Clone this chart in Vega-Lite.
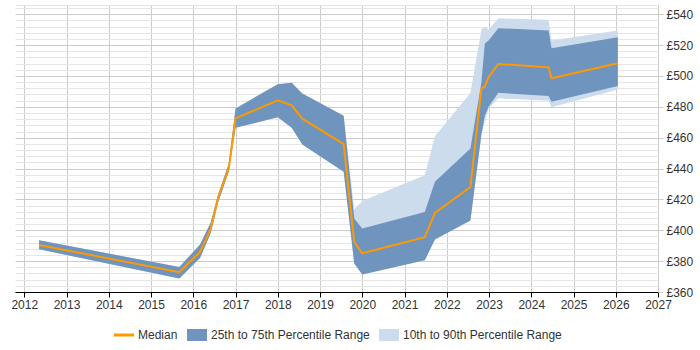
{
  "$schema": "https://vega.github.io/schema/vega-lite/v6.json",
  "width": 643,
  "height": 287,
  "autosize": {"type": "none"},
  "padding": {"left": 15, "top": 5, "right": 42, "bottom": 58},
  "background": "white",
  "config": {
    "view": {"stroke": null},
    "font": "Liberation Sans",
    "axis": {"labelFont": "Liberation Sans", "labelFontSize": 12, "labelColor": "#333333"},
    "legend": {"labelFont": "Liberation Sans", "labelFontSize": 12, "labelColor": "#333333"}
  },
  "data": {
    "values": [
      {"year": 2012.35, "p10": 387.7, "p25": 387.7, "p50": 390.5, "p75": 393.5, "p90": 393.5},
      {"year": 2015.67, "p10": 368.7, "p25": 368.7, "p50": 372.8, "p75": 376.2, "p90": 376.2},
      {"year": 2016.16, "p10": 382.0, "p25": 382.0, "p50": 386.0, "p75": 390.8, "p90": 390.8},
      {"year": 2016.41, "p10": 397.9, "p25": 397.9, "p50": 400.7, "p75": 404.8, "p90": 404.8},
      {"year": 2016.59, "p10": 418.4, "p25": 418.4, "p50": 421.6, "p75": 423.4, "p90": 423.4},
      {"year": 2016.84, "p10": 437.9, "p25": 437.9, "p50": 440.0, "p75": 443.3, "p90": 443.3},
      {"year": 2017.0, "p10": 466.4, "p25": 466.4, "p50": 472.5, "p75": 479.0, "p90": 479.0},
      {"year": 2018.0, "p10": 473.2, "p25": 473.2, "p50": 484.2, "p75": 494.6, "p90": 494.6},
      {"year": 2018.33, "p10": 466.4, "p25": 466.4, "p50": 481.0, "p75": 495.6, "p90": 495.6},
      {"year": 2018.58, "p10": 455.6, "p25": 455.6, "p50": 472.3, "p75": 488.7, "p90": 488.7},
      {"year": 2019.56, "p10": 437.9, "p25": 437.9, "p50": 455.8, "p75": 474.2, "p90": 474.2},
      {"year": 2019.81, "p10": 378.4, "p25": 378.4, "p50": 392.4, "p75": 407.6, "p90": 413.5},
      {"year": 2020.0, "p10": 371.3, "p25": 371.3, "p50": 385.1, "p75": 401.1, "p90": 419.0},
      {"year": 2021.48, "p10": 380.6, "p25": 380.6, "p50": 395.5, "p75": 411.9, "p90": 435.7},
      {"year": 2021.72, "p10": 394.0, "p25": 394.0, "p50": 411.3, "p75": 431.4, "p90": 461.0},
      {"year": 2022.56, "p10": 406.3, "p25": 406.3, "p50": 428.0, "p75": 453.0, "p90": 489.0},
      {"year": 2022.82, "p10": 462.0, "p25": 462.0, "p50": 492.0, "p75": 496.0, "p90": 530.0},
      {"year": 2022.9, "p10": 470.0, "p25": 474.0, "p50": 493.0, "p75": 521.0, "p90": 532.0},
      {"year": 2022.99, "p10": 479.0, "p25": 480.0, "p50": 499.3, "p75": 523.0, "p90": 530.0},
      {"year": 2023.22, "p10": 485.5, "p25": 489.1, "p50": 507.8, "p75": 531.0, "p90": 537.4},
      {"year": 2024.41, "p10": 484.0, "p25": 487.0, "p50": 505.6, "p75": 529.4, "p90": 536.4},
      {"year": 2024.48, "p10": 479.7, "p25": 483.3, "p50": 498.5, "p75": 518.0, "p90": 523.0},
      {"year": 2026.05, "p10": 491.3, "p25": 493.5, "p50": 508.2, "p75": 525.1, "p90": 529.4}
    ]
  },
  "layer": [
    {
      "mark": {"type": "area", "opacity": 1, "interpolate": "linear"},
      "encoding": {
        "x": {"field": "year", "type": "quantitative", "scale": {"domain": [2011.78, 2027], "nice": false, "zero": false},
          "axis": {"values": [2012,2013,2014,2015,2016,2017,2018,2019,2020,2021,2022,2023,2024,2025,2026,2027], "format": "d", "title": null, "grid": true, "gridColor": "#cccccc", "domainColor": "#000000", "tickColor": "#000000", "tickSize": 5, "labelPadding": 2, "labelFlush": false}},
        "y": {"field": "p10", "type": "quantitative", "scale": {"domain": [360, 546], "nice": false, "zero": false},
          "axis": {"orient": "left", "values": [364,368,372,376,384,388,392,396,404,408,412,416,424,428,432,436,444,448,452,456,464,468,472,476,484,488,492,496,504,508,512,516,524,528,532,536,544,546], "grid": true, "gridColor": "#e6e6e6", "labels": false, "ticks": false, "domain": false, "title": null}},
        "y2": {"field": "p90"},
        "color": {"datum": "10th to 90th Percentile Range", "type": "nominal",
          "scale": {"domain": ["Median", "25th to 75th Percentile Range", "10th to 90th Percentile Range"], "range": ["#ff9900", "#6f94be", "#cddcec"]},
          "legend": {
            "title": null, "orient": "none", "direction": "horizontal", "legendX": 103, "legendY": 324,
            "padding": 0, "columnPadding": 9, "labelOffset": 8, "symbolSize": 400, "labelLimit": 400,
            "symbolType": "M-1,-0.6H1V0.6H-1Z", "symbolStrokeWidth": 0, "symbolOpacity": 1,
            "encode": {"symbols": {"update": {
              "shape": {"signal": "datum.value === 'Median' ? 'M-1,0H1' : 'M-1,-0.6H1V0.6H-1Z'"},
              "fill": {"signal": "datum.value === 'Median' ? 'transparent' : (datum.value === '25th to 75th Percentile Range' ? '#7f9fc4' : '#d0deed')"},
              "stroke": {"signal": "datum.value === 'Median' ? '#ff9900' : 'transparent'"},
              "strokeWidth": {"signal": "datum.value === 'Median' ? 3 : 0"},
              "opacity": {"value": 1}
            }}}
          }}
      }
    },
    {
      "mark": {"type": "area", "opacity": 1, "interpolate": "linear"},
      "encoding": {
        "x": {"field": "year", "type": "quantitative"},
        "y": {"field": "p25", "type": "quantitative",
          "axis": {"orient": "right", "values": [360,380,400,420,440,460,480,500,520,540], "labelExpr": "'£' + datum.value", "grid": true, "gridColor": "#cccccc", "domain": false, "ticks": true, "tickColor": "#cccccc", "tickSize": 5, "labelPadding": 3, "title": null}},
        "y2": {"field": "p75"},
        "color": {"datum": "25th to 75th Percentile Range", "type": "nominal"}
      }
    },
    {
      "mark": {"type": "line", "strokeWidth": 2, "interpolate": "linear"},
      "encoding": {
        "x": {"field": "year", "type": "quantitative"},
        "y": {"field": "p50", "type": "quantitative", "axis": null},
        "color": {"datum": "Median", "type": "nominal"}
      }
    }
  ],
  "resolve": {"axis": {"y": "independent"}}
}
